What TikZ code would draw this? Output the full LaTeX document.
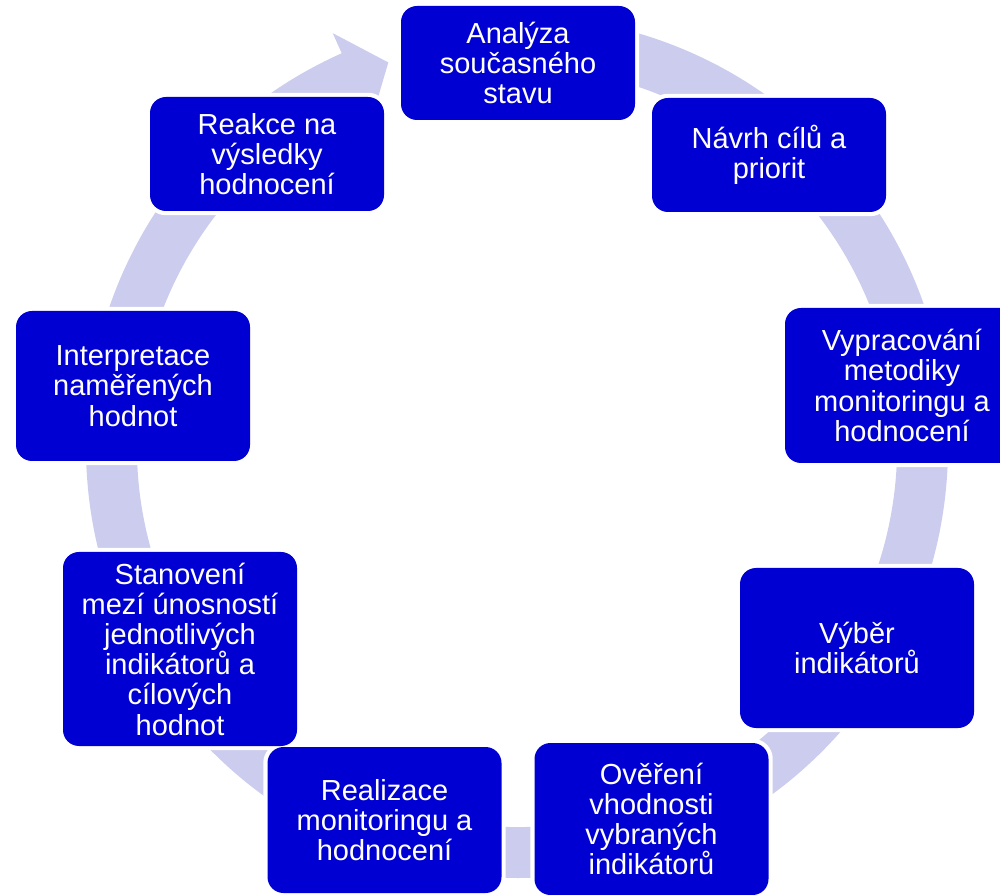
\documentclass[tikz,border=0pt]{standalone}
\usepackage{fontspec}
\setmainfont{Liberation Sans}
\definecolor{boxblue}{RGB}{0,0,210}
\definecolor{ringcol}{RGB}{204,204,238}
\pgfdeclarelayer{ringlayer}
\pgfdeclarelayer{outlinelayer}
\pgfsetlayers{ringlayer,outlinelayer,main}
\begin{document}
\begin{tikzpicture}[x=1pt,y=1pt,
  stepbox/.style={rectangle, rounded corners=16pt, fill=boxblue, text=white,
    align=center, inner sep=0pt, font=\fontsize{29}{30.2}\selectfont,
    minimum width=234pt},
  boxedge/.style={white, line width=8pt, rounded corners=16pt},
  ringfill/.style={fill=ringcol}
]
\useasboundingbox (0,0) rectangle (1000,894);

\node[stepbox, minimum height=114pt] (a) at (518,831) {Analýza\\současného\\stavu};
\node[stepbox, minimum height=114pt] (b) at (769,739) {Návrh cílů a\\priorit};
\node[stepbox, minimum height=155pt] (c) at (902,508.5) {Vypracování\\metodiky\\monitoringu a\\hodnocení};
\node[stepbox, minimum height=160pt] (d) at (857,246) {Výběr\\indikátorů};
\node[stepbox, minimum height=152pt] (e) at (651.5,75) {Ověření\\vhodnosti\\vybraných\\indikátorů};
\node[stepbox, minimum height=146pt] (f) at (384.5,74) {Realizace\\monitoringu a\\hodnocení};
\node[stepbox, minimum height=194pt] (g) at (180,245) {Stanovení\\mezí únosností\\jednotlivých\\indikátorů a\\cílových\\hodnot};
\node[stepbox, minimum height=150pt] (h) at (133,508) {Interpretace\\naměřených\\hodnot};
\node[stepbox, minimum height=114pt] (i) at (267,740) {Reakce na\\výsledky\\hodnocení};

\begin{pgfonlayer}{outlinelayer}
\foreach \n in {a,b,c,d,e,f,g,h,i}
  \draw[boxedge] (\n.south west) rectangle (\n.north east);
\end{pgfonlayer}

\begin{pgfonlayer}{ringlayer}
\path[ringfill, shift={(517,447)}]
  (88:431) arc[start angle=88, end angle=-246, radius=431pt]
  -- (114:453) -- (108.5:405.5) -- (114:358) -- (114:380)
  arc[start angle=-246, end angle=88, radius=380pt] -- cycle;
\end{pgfonlayer}
\end{tikzpicture}
\end{document}
